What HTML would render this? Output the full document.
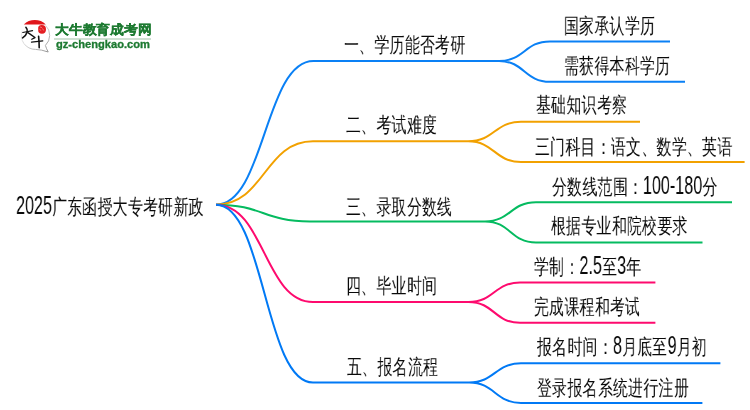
<!DOCTYPE html>
<html><head><meta charset="utf-8"><style>
html,body{margin:0;padding:0;background:#fff;width:750px;height:410px;overflow:hidden}
body{position:relative;font-family:"Liberation Sans",sans-serif}
.t{position:absolute;white-space:nowrap;line-height:1;color:#0a0a0a;transform-origin:0 0;font-size:21.3px;transform:scaleX(0.71);will-change:transform;letter-spacing:0.4px}
.a{display:inline-block}
.a>span{display:inline-block;font-size:25.2px;transform-origin:0 0;letter-spacing:0}
.mm{position:absolute;left:0;top:0}
.mm path{fill:none;stroke-width:2.0}
</style></head><body>
<svg class="mm" width="750" height="410" viewBox="0 0 750 410">
<path d="M216,204.7 C264.75,204.7 264.75,61.0 313.5,61.0 L499,61.0 M499,61.0 C524.50,61.0 524.50,41.4 550,41.4 L670,41.4 M499,61.0 C524.50,61.0 524.50,81.8 550,81.8 L685,81.8" stroke="#0a80f5"/>
<path d="M216,204.7 C264.50,204.7 264.50,141.3 313,141.3 L468,141.3 M468,141.3 C494.50,141.3 494.50,121.8 521,121.8 L640,121.8 M468,141.3 C494.50,141.3 494.50,162.0 521,162.0 L744.6,162.0" stroke="#f2a100"/>
<path d="M216,204.7 C263.00,204.7 263.00,221.4 310,221.4 L485,221.4 M485,221.4 C510.50,221.4 510.50,202.3 536,202.3 L732,202.3 M485,221.4 C510.50,221.4 510.50,242.5 536,242.5 L702.5,242.5" stroke="#05bb60"/>
<path d="M216,204.7 C264.50,204.7 264.50,302.0 313,302.0 L468.5,302.0 M468.5,302.0 C494.25,302.0 494.25,282.6 520,282.6 L655.4,282.6 M468.5,302.0 C494.25,302.0 494.25,322.8 520,322.8 L655.4,322.8" stroke="#fe0a6e"/>
<path d="M216,204.7 C264.50,204.7 264.50,382.5 313,382.5 L469,382.5 M469,382.5 C495.00,382.5 495.00,363.3 521,363.3 L720.4,363.3 M469,382.5 C495.00,382.5 495.00,402.9 521,402.9 L702.4,402.9" stroke="#0079f5"/>
</svg>
<div class="t" style="left:16.00px;top:192.90px"><span class="a" style="width:50.677px"><span style="transform:scaleX(0.9042)">2025</span></span>广东函授大专考研新政</div>
<div class="t" style="left:344.00px;top:34.50px">一、学历能否考研</div>
<div class="t" style="left:564.30px;top:15.90px">国家承认学历</div>
<div class="t" style="left:563.70px;top:56.20px">需获得本科学历</div>
<div class="t" style="left:346.40px;top:115.10px">二、考试难度</div>
<div class="t" style="left:535.50px;top:95.10px">基础知识考察</div>
<div class="t" style="left:534.60px;top:136.50px">三门科目：语文、数学、英语</div>
<div class="t" style="left:346.20px;top:197.00px">三、录取分数线</div>
<div class="t" style="left:551.50px;top:172.50px">分数线范围：<span class="a" style="width:83.604px"><span style="transform:scaleX(0.9042)">100-180</span></span>分</div>
<div class="t" style="left:551.20px;top:216.20px">根据专业和院校要求</div>
<div class="t" style="left:346.00px;top:275.90px">四、毕业时间</div>
<div class="t" style="left:534.40px;top:253.10px">学制：<span class="a" style="width:31.673px"><span style="transform:scaleX(0.9042)">2.5</span></span>至<span class="a" style="width:12.669px"><span style="transform:scaleX(0.9042)">3</span></span>年</div>
<div class="t" style="left:533.60px;top:296.70px">完成课程和考试</div>
<div class="t" style="left:347.00px;top:357.00px">五、报名流程</div>
<div class="t" style="left:537.20px;top:333.10px">报名时间：<span class="a" style="width:12.669px"><span style="transform:scaleX(0.9042)">8</span></span>月底至<span class="a" style="width:12.669px"><span style="transform:scaleX(0.9042)">9</span></span>月初</div>
<div class="t" style="left:536.70px;top:377.50px">登录报名系统进行注册</div>
<svg width="60" height="60" viewBox="0 0 60 60" style="position:absolute;left:0;top:0">
<defs>
<linearGradient id="rg" x1="0" y1="0" x2="1" y2="1">
<stop offset="0" stop-color="#f4f4f4"/>
<stop offset="0.5" stop-color="#d0d0d0"/>
<stop offset="1" stop-color="#909090"/>
</linearGradient>
</defs>
<path d="M45.6,25.4 A14,14 0 0 1 45.4,45.4 Q46.4,48.8 48.2,52 Q41.5,49.6 35.5,49.4 A14,14 0 0 1 22.2,30.5" fill="none" stroke="url(#rg)" stroke-width="1.0"/>
<path d="M23.8,24.6 A15.2,15.2 0 0 1 45.8,24.6 Z" fill="#e0161b"/>
<path d="M38.2,27.5 Q38.5,25 41.5,25 Q45.8,24.8 46,29 Q46.2,33.6 42,33.8 Q38,33.8 38.2,30 Z" fill="#e41e22"/>
<path d="M40,27 l2,0.6 M39.6,29.5 l1.6,1 M42.5,28.5 l1.2,2" stroke="#f6b0b0" stroke-width="0.6" fill="none"/>
<g fill="none" stroke="#111" stroke-linecap="round" stroke-linejoin="round">
<path d="M25.9,27.3 Q27.9,29.6 27.2,32 Q26.2,35.4 22.6,37.9" stroke-width="1.6"/>
<path d="M22.7,32.5 L32.6,30.6" stroke-width="1.1"/>
<path d="M27.9,32.6 Q31.5,35 35,37.6 L31.8,39.3" stroke-width="1.3"/>
<path d="M31.5,42.2 L42.8,40.8" stroke-width="1.2"/>
<path d="M38.6,36.3 Q39.2,42 39.2,47.8" stroke-width="1.6"/>
</g>
</svg>
<div style="position:absolute;left:54.7px;top:24.3px;font-family:'Liberation Sans',sans-serif;font-weight:bold;font-size:12.6px;line-height:1;white-space:nowrap;color:#1d7a31;-webkit-text-stroke:0.3px #1d7a31;transform-origin:0 0;transform:scaleX(1.061);will-change:transform">大牛教育成考网</div>
<div style="position:absolute;left:54px;top:38.4px;width:97px;height:1.3px;background:#cfe0d2"></div>
<div style="position:absolute;left:55.5px;top:40.3px;font-family:'Liberation Sans',sans-serif;font-weight:bold;font-size:10px;line-height:1;white-space:nowrap;color:#1d7a31;-webkit-text-stroke:0.3px #1d7a31;transform-origin:0 0;transform:scaleX(1.113);will-change:transform">gz-chengkao.com</div>

</body></html>
